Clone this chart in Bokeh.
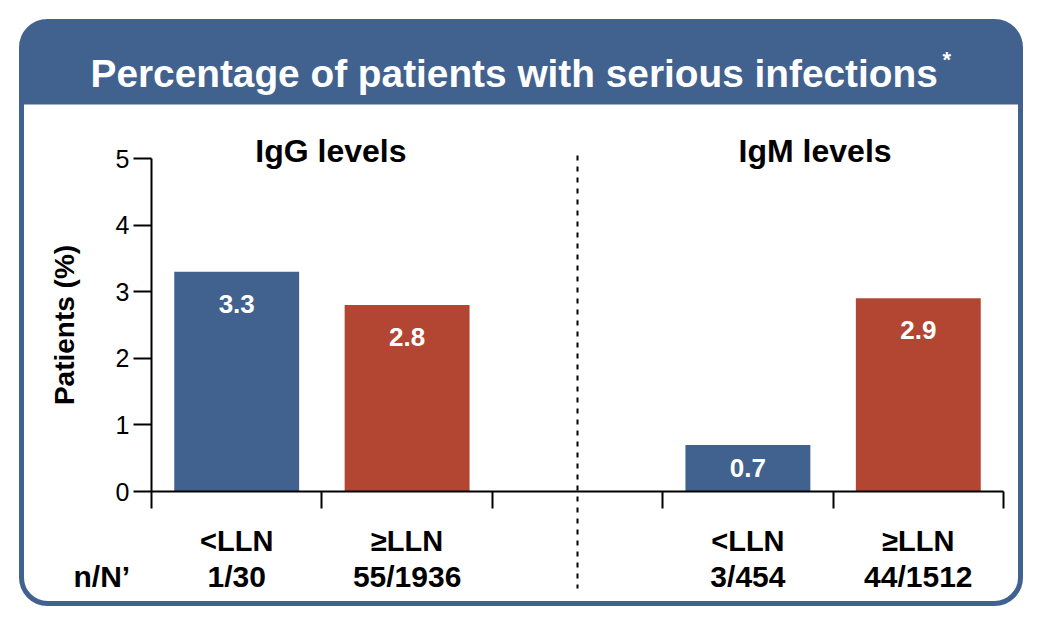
from bokeh.plotting import figure
from bokeh.models import BoxAnnotation, Label, LinearAxis, FixedTicker, Range1d
from bokeh.embed import file_html
from bokeh.resources import INLINE
from bokeh.core.properties import value

# ---------------- data ----------------
title = "Percentage of patients with serious infections"
title_note = "*"
groups = ["IgG levels", "IgM levels"]
levels = ["<LLN", "≥LLN", "<LLN", "≥LLN"]
counts = ["1/30", "55/1936", "3/454", "44/1512"]
values = [3.3, 2.8, 0.7, 2.9]
y_ticks = [0, 1, 2, 3, 4, 5]
y_label = "Patients (%)"
n_label = "n/N’"

# ---------------- style ----------------
BLUE = "#41628f"
RED = "#b24633"
bar_colors = [BLUE, RED, BLUE, RED]
FONT = "Liberation Sans"

W, H = 1034, 618
# image-pixel layout of the data area (x slots 0..5, y 0..5)
X0, X5 = 151.0, 1003.0
Y0, Y5 = 491.0, 158.0
OX, OY = 0.0, 0.0
sx = 5.0 / (X5 - X0)
sy = 5.0 / (Y0 - Y5)


def px2x(px):
    return (px - X0) * sx


def px2y(py):
    return (Y0 - py) * sy


p = figure(width=W, height=H, output_backend="svg", toolbar_location=None,
           x_range=Range1d(px2x(OX), px2x(OX + W)),
           y_range=Range1d(px2y(OY + H), px2y(OY)),
           x_axis_type=None, y_axis_type=None, min_border=0)
p.outline_line_color = None
p.background_fill_color = "white"
p.border_fill_color = "white"

# slots: group 0 -> 0,1 ; gap slot 2 ; group 1 -> 3,4
xs = [g * 3 + i + 0.5 for g in range(len(groups)) for i in range(2)]

# bars
p.vbar(x=xs, top=values, width=0.733, bottom=0, fill_color=bar_colors, line_color=None)

# value labels inside bars
label_y = [max(v - 0.48, v / 2) for v in values]
p.text(x=xs, y=label_y, text=[f"{v:.1f}" for v in values], text_color="white",
       text_align="center", text_baseline="middle",
       text_font=value(FONT), text_font_style="bold", text_font_size="26px")

# axes
yaxis = LinearAxis(fixed_location=0, ticker=FixedTicker(ticks=y_ticks), bounds=(0, 5),
                   axis_label=y_label)
yaxis.axis_line_width = 2
yaxis.major_tick_line_width = 2
yaxis.major_tick_out = 18
yaxis.major_tick_in = 0
yaxis.minor_tick_out = 0
yaxis.minor_tick_in = 0
yaxis.major_label_standoff = 4
yaxis.major_label_text_font = FONT
yaxis.major_label_text_font_size = "25px"
yaxis.major_label_text_color = "black"
yaxis.axis_label_text_font = FONT
yaxis.axis_label_text_font_style = "bold"
yaxis.axis_label_text_font_size = "28px"
yaxis.axis_label_text_color = "black"
yaxis.axis_label_standoff = 33
p.add_layout(yaxis, "left")

xaxis = LinearAxis(fixed_location=0, ticker=FixedTicker(ticks=[0, 1, 2, 3, 4, 5]), bounds=(0, 5))
xaxis.axis_line_width = 2
xaxis.major_tick_line_width = 2
xaxis.major_tick_out = 17
xaxis.major_tick_in = 0
xaxis.minor_tick_out = 0
xaxis.minor_tick_in = 0
xaxis.major_label_text_font_size = "0px"
xaxis.major_label_text_alpha = 0
p.add_layout(xaxis, "below")

# category labels below axis
p.text(x=xs, y=[0] * 4, text=levels, y_offset=49, text_align="center",
       text_baseline="alphabetic", text_font=value(FONT), text_font_style="bold",
       text_font_size="29px", text_color="black")
p.text(x=xs, y=[0] * 4, text=counts, y_offset=85, text_align="center",
       text_baseline="alphabetic", text_font=value(FONT), text_font_style="bold",
       text_font_size="30px", text_color="black")
p.text(x=[px2x(73)], y=[0], text=[n_label], y_offset=85, text_align="left",
       text_baseline="alphabetic", text_font=value(FONT), text_font_style="bold",
       text_font_size="30px", text_color="black")

# group headings
gx = [g * 3 + 1.0 for g in range(len(groups))]
p.text(x=gx, y=[5, 5], text=groups, x_offset=[9, -18], y_offset=-8,
       text_align="center", text_baseline="alphabetic", text_font=value(FONT),
       text_font_style="bold", text_font_size="32px", text_color="black")

# dashed divider in the gap slot
p.segment(x0=[2.5], y0=[px2y(155)], x1=[2.5], y1=[px2y(588)],
          line_color="black", line_width=2, line_dash="5 6")

# header band and rounded frame
header = BoxAnnotation(left=px2x(20), right=px2x(1021), top=px2y(21), bottom=px2y(104),
                       fill_color=BLUE, fill_alpha=1, line_color=None,
                       border_radius=(28, 28, 0, 0))
p.add_layout(header)
frame_box = BoxAnnotation(left=px2x(21), right=px2x(1020), top=px2y(21), bottom=px2y(603),
                          fill_alpha=0, line_color=BLUE, line_width=5, line_alpha=1,
                          border_radius=26)
p.add_layout(frame_box)

p.add_layout(Label(x=px2x(90), y=px2y(73), text=title, text_align="left",
                   text_baseline="alphabetic", text_color="white", text_font=FONT,
                   text_font_style="bold", text_font_size="38.8px"))
p.add_layout(Label(x=px2x(942), y=px2y(59), text=title_note, text_align="left",
                   text_baseline="alphabetic", text_color="white", text_font=FONT,
                   text_font_style="bold", text_font_size="22px"))

open("out.html", "w").write(file_html(p, INLINE))
